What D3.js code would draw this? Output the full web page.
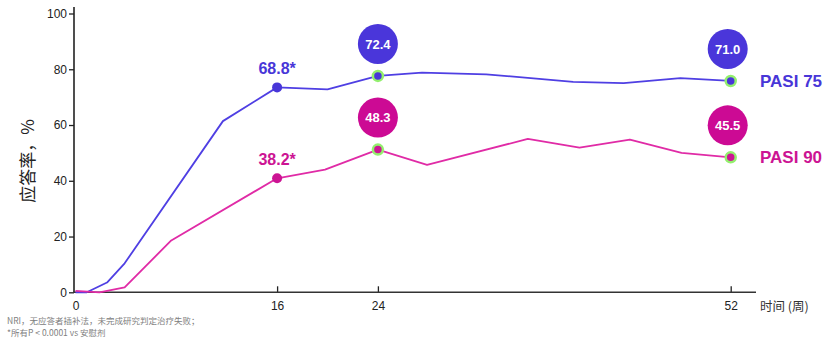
<!DOCTYPE html>
<html><head><meta charset="utf-8">
<script src="https://cdn.jsdelivr.net/npm/d3@7"></script>
<style>
html,body{margin:0;padding:0;background:#fff;}
svg{display:block;font-family:"Liberation Sans",Arial,sans-serif;}
</style></head>
<body><svg id="c" width="830" height="341"></svg>
<script>
// ---- data ----
const weeks75 = [0, 0.9, 2.5, 3.9, 11.7, 16, 20, 24, 27.5, 32.6, 39.5, 43.5, 48, 52];
const pasi75  = [0, 0, 3.5, 10.4, 61.4, 73.5, 72.8, 77.6, 78.8, 78.2, 75.5, 75, 76.8, 75.8];
const weeks90 = [0, 1.9, 3.9, 7.6, 16, 19.8, 24, 27.9, 35.9, 40, 44, 48.1, 52];
const pasi90  = [0.5, 0, 1.8, 18.6, 40.9, 44, 51.2, 45.7, 55, 51.9, 54.8, 50, 48.4];
const seriesNames = ["PASI 75", "PASI 90"];
const starWeek = 16;
const starLabels = ["68.8*", "38.2*"];
const bubbleWeeks = [24, 52];
const bubble75 = ["72.4", "71.0"];
const bubble90 = ["48.3", "45.5"];
const xTicks = [0, 16, 24, 52];
const yTicks = [0, 20, 40, 60, 80, 100];
const yTitle = "应答率，%";
const xTitle = "时间 (周)";
const notes = ["NRI，无应答者插补法，未完成研究判定治疗失败；", "*所有P < 0.0001 vs 安慰剂"];

// ---- styles ----
const lineCol = ["#4f3fe3", "#e02ba6"];
const dotCol = ["#4836d8", "#cc1493"];
const bubbleCol = ["#4a36da", "#cc0a94"];
const halo = "#93ef6e";

const svg = d3.select("#c");
const x = d3.scaleLinear().domain([0, 52]).range([75.5, 730.7]);
const y = d3.scaleLinear().domain([0, 100]).range([292.3, 13.5]);

const series = [
  {name: seriesNames[0], pts: weeks75.map((w, i) => ({w, v: pasi75[i]})), bubbles: bubble75},
  {name: seriesNames[1], pts: weeks90.map((w, i) => ({w, v: pasi90[i]})), bubbles: bubble90}
];

// y axis
const yAxis = d3.axisLeft(y).tickValues(yTicks).tickSize(5).tickPadding(2);
const gy = svg.append("g").attr("transform", "translate(74,0)").call(yAxis);
gy.select(".domain").remove();
gy.selectAll(".tick line").attr("stroke", "#222").attr("stroke-width", 1.3);
gy.selectAll(".tick text").attr("font-size", 12).attr("fill", "#222")
  .attr("font-family", "Liberation Sans, Arial, sans-serif");
svg.append("line").attr("x1", 74).attr("x2", 74).attr("y1", 7).attr("y2", y(0) + 0.5)
  .attr("stroke", "#222").attr("stroke-width", 1.6);

// x axis
const xAxis = d3.axisBottom(x).tickValues(xTicks).tickSize(0).tickPadding(9).tickFormat(d3.format("d"));
const gx = svg.append("g").attr("transform", `translate(0,${y(0)})`).call(xAxis);
gx.select(".domain").remove();
gx.selectAll(".tick text").attr("font-size", 12).attr("fill", "#222")
  .attr("font-family", "Liberation Sans, Arial, sans-serif");
gx.selectAll(".tick").filter(d => d !== 0).append("line")
  .attr("y1", 0).attr("y2", -6).attr("stroke", "#222").attr("stroke-width", 1.3);
svg.append("line").attr("x1", 73).attr("x2", 756).attr("y1", y(0)).attr("y2", y(0))
  .attr("stroke", "#333").attr("stroke-width", 1.6);

svg.append("text").attr("x", 760).attr("y", 311).attr("font-size", 12.5).attr("fill", "#333")
  .attr("font-family", "Noto Sans CJK SC, sans-serif").text(xTitle);

svg.append("text").attr("transform", "translate(34,161) rotate(-90)").attr("text-anchor", "middle")
  .attr("font-size", 17).attr("fill", "#222").attr("font-family", "Noto Sans CJK SC, sans-serif")
  .text(yTitle);

// lines
const line = d3.line().x(d => x(d.w)).y(d => y(d.v));
series.forEach((s, i) => {
  svg.append("path").datum(s.pts).attr("d", line).attr("fill", "none")
    .attr("stroke", lineCol[i]).attr("stroke-width", 1.8).attr("stroke-linejoin", "round");
});

// markers & labels
series.forEach((s, i) => {
  const p16 = s.pts.find(p => p.w === starWeek);
  svg.append("circle").attr("cx", x(p16.w)).attr("cy", y(p16.v)).attr("r", 5).attr("fill", dotCol[i]);
  svg.append("text").attr("x", x(p16.w)).attr("y", y(p16.v) - 13).attr("text-anchor", "middle")
    .attr("font-size", 16).attr("font-weight", "bold").attr("fill", dotCol[i]).text(starLabels[i]);

  bubbleWeeks.forEach((bw, j) => {
    const p = s.pts.find(q => q.w === bw);
    const cx = x(p.w), cy = y(p.v);
    svg.append("circle").attr("cx", cx).attr("cy", cy).attr("r", 5)
      .attr("fill", dotCol[i]).attr("stroke", halo).attr("stroke-width", 2.5);
    const bx = cx - (j === 1 ? 3 : 0), by = cy - 32;
    svg.append("circle").attr("cx", bx).attr("cy", by).attr("r", 20).attr("fill", bubbleCol[i]);
    svg.append("text").attr("x", bx).attr("y", by + 4.7).attr("text-anchor", "middle")
      .attr("font-size", 13).attr("font-weight", "bold").attr("fill", "#fff").text(s.bubbles[j]);
  });

  const last = s.pts[s.pts.length - 1];
  svg.append("text").attr("x", 760).attr("y", y(last.v) + 6).attr("font-size", 17)
    .attr("font-weight", "bold").attr("fill", dotCol[i]).text(s.name);
});

// footnotes
notes.forEach((t, i) => {
  svg.append("text").attr("x", 7).attr("y", 324 + i * 12).attr("font-size", 8.5)
    .attr("fill", "#808080").attr("font-family", "Noto Sans CJK SC, sans-serif").text(t);
});
</script>
</body></html>
